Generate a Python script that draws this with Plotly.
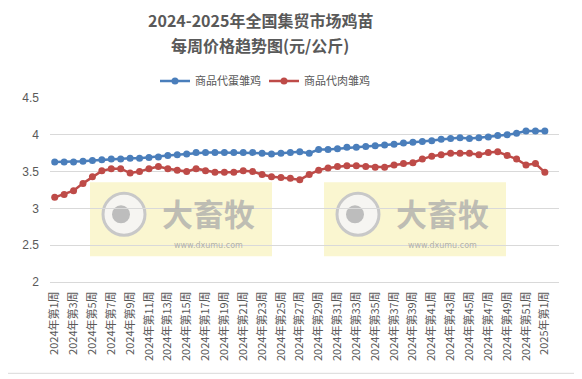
import plotly.graph_objects as go

weeks = [f"2024年第{i}周" for i in range(1, 53)] + ["2025年第1周"]

egg_chick = [3.63, 3.63, 3.63, 3.64, 3.65, 3.66, 3.67, 3.67, 3.68, 3.68,
             3.69, 3.70, 3.72, 3.73, 3.74, 3.76, 3.76, 3.76, 3.76, 3.76,
             3.76, 3.76, 3.75, 3.74, 3.75, 3.76, 3.77, 3.75, 3.80, 3.80,
             3.81, 3.83, 3.83, 3.84, 3.85, 3.86, 3.87, 3.89, 3.90, 3.91,
             3.92, 3.94, 3.95, 3.96, 3.95, 3.96, 3.97, 3.99, 4.00, 4.02,
             4.05, 4.05, 4.05]

meat_chick = [3.15, 3.19, 3.24, 3.34, 3.43, 3.51, 3.54, 3.54, 3.48, 3.50,
              3.54, 3.57, 3.54, 3.52, 3.50, 3.54, 3.51, 3.49, 3.49, 3.49,
              3.51, 3.50, 3.46, 3.43, 3.42, 3.41, 3.39, 3.46, 3.52, 3.55,
              3.57, 3.58, 3.58, 3.57, 3.56, 3.56, 3.59, 3.61, 3.62, 3.67,
              3.71, 3.73, 3.75, 3.75, 3.75, 3.73, 3.76, 3.77, 3.72, 3.67,
              3.59, 3.61, 3.49]

series_names = ["商品代蛋雏鸡", "商品代肉雏鸡"]
title_lines = ["2024-2025年全国集贸市场鸡苗", "每周价格趋势图(元/公斤)"]

# page body has an 8px margin; work in screenshot pixels and subtract it
OFF = 8
W, H = 582 - OFF, 379 - OFF
L, R, T, B = 50 - OFF, 559 - OFF, 97.7 - OFF, 281.7 - OFF

def px_x(px):
    return (px - OFF - L) / (R - L)

def px_y(py):
    return (B - (py - OFF)) / (B - T)

xs = list(range(len(weeks)))
tick_idx = xs[::2]
tick_txt = [weeks[i] for i in tick_idx]

fig = go.Figure()
fig.add_trace(go.Scatter(x=xs, y=egg_chick, name=series_names[0], mode="lines+markers",
                         line=dict(color="#4a7ebb", width=2.5),
                         marker=dict(color="#4a7ebb", size=7)))
fig.add_trace(go.Scatter(x=xs, y=meat_chick, name=series_names[1], mode="lines+markers",
                         line=dict(color="#be4b48", width=2.5),
                         marker=dict(color="#be4b48", size=7)))

font_cn = "Noto Sans CJK SC, Microsoft YaHei, sans-serif"

shapes = []
annotations = []
# titles
for txt, py in zip(title_lines, [20, 45]):
    annotations.append(dict(text="<b>" + txt + "</b>", xref="paper", yref="paper",
                            x=px_x(260), y=px_y(py), xanchor="center", yanchor="middle",
                            showarrow=False,
                            font=dict(family=font_cn, size=16, color="#595959")))
# chart border
shapes.append(dict(type="rect", xref="paper", yref="paper",
                   x0=px_x(3), x1=px_x(578), y0=px_y(373), y1=px_y(3),
                   line=dict(color="#d9d9d9", width=1), layer="below"))
# watermarks
for (x0, x1) in [(90, 272), (324, 506)]:
    shapes.append(dict(type="rect", xref="paper", yref="paper",
                       x0=px_x(x0), x1=px_x(x1), y0=px_y(256), y1=px_y(182),
                       fillcolor="rgba(245,238,170,0.55)", line=dict(width=0), layer="below"))
    cx, cy = x0 + 34, 214
    shapes.append(dict(type="circle", xref="paper", yref="paper",
                       x0=px_x(cx - 21), x1=px_x(cx + 21), y0=px_y(cy + 21), y1=px_y(cy - 21),
                       fillcolor="rgba(245,245,245,0.9)", line=dict(color="#c8c8c8", width=3), layer="below"))
    shapes.append(dict(type="circle", xref="paper", yref="paper",
                       x0=px_x(cx - 12), x1=px_x(cx + 6), y0=px_y(cy + 9), y1=px_y(cy - 9),
                       fillcolor="#bdbdbd", line=dict(width=0), layer="below"))
    annotations.append(dict(text="<b>大畜牧</b>", xref="paper", yref="paper",
                            x=px_x(x0 + 118), y=px_y(212), xanchor="center", yanchor="middle",
                            showarrow=False,
                            font=dict(family=font_cn, size=31, color="rgba(170,170,170,0.75)")))
    annotations.append(dict(text="www.dxumu.com", xref="paper", yref="paper",
                            x=px_x(x0 + 118), y=px_y(245), xanchor="center", yanchor="middle",
                            showarrow=False,
                            font=dict(family="DejaVu Sans, sans-serif", size=8, color="rgba(160,160,160,0.8)")))

fig.update_layout(
    width=W, height=H,
    margin=dict(l=L, r=W - R, t=T, b=H - B, autoexpand=False),
    paper_bgcolor="white", plot_bgcolor="white",
    legend=dict(orientation="h", x=(155 - OFF) / W, xref="container", y=1 - (81 - OFF) / H, yref="container",
                xanchor="left", yanchor="middle",
                font=dict(family=font_cn, size=11, color="#595959"),
                itemwidth=30, entrywidth=64, entrywidthmode="pixels",
                tracegroupgap=0, bgcolor="rgba(0,0,0,0)"),
    xaxis=dict(range=[-0.5, len(weeks) + 0.5], tickmode="array", tickvals=tick_idx, ticktext=tick_txt,
               tickangle=-90, showgrid=False, showline=True, linecolor="#d9d9d9", linewidth=1,
               ticks="", ticklabelstandoff=4, automargin=False,
               tickfont=dict(family=font_cn, size=11, color="#595959"), zeroline=False),
    yaxis=dict(range=[2, 4.5], dtick=0.5, tick0=2, showgrid=True, gridcolor="#d9d9d9", gridwidth=1,
               showline=False, zeroline=False, ticks="", ticklabelstandoff=10, automargin=False,
               tickfont=dict(family="Liberation Sans, Arial, sans-serif", size=12, color="#595959")),
    shapes=shapes, annotations=annotations,
)

fig.write_html("out.html")
